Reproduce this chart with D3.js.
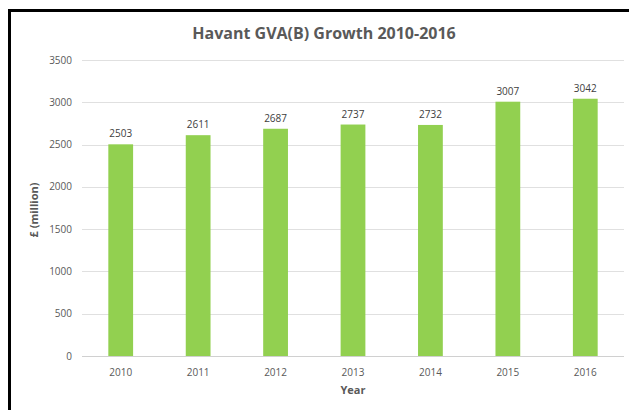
<!DOCTYPE html>
<html>
<head>
<meta charset="utf-8">
<script src="https://cdn.jsdelivr.net/npm/d3@7"></script>
<style>
  body { margin: 0; background: #fff; }
  text { font-family: 'Open Sans', 'Noto Sans', sans-serif; }
</style>
</head>
<body>
<div id="chart"></div>
<script>
(function() {

const years = ['2010', '2011', '2012', '2013', '2014', '2015', '2016']
const gva = [2503, 2611, 2687, 2737, 2732, 3007, 3042]
const yTicks = [0, 500, 1000, 1500, 2000, 2500, 3000, 3500]

const width = 629,
      height = 410

const margin = { top: 60, right: 5, bottom: 54, left: 82 }

const svg = d3.select('#chart')
  .append('svg')
  .attr('width', width)
  .attr('height', height)

// frame
svg.append('rect')
  .attr('x', 9.5)
  .attr('y', 10.5)
  .attr('width', 640)
  .attr('height', 420)
  .attr('fill', 'none')
  .attr('stroke', '#000')
  .attr('stroke-width', 3)

const x = d3.scaleBand()
  .domain(years)
  .range([margin.left, width - margin.right])
  .paddingInner(0.68)
  .paddingOuter(0.34)

const y = d3.scaleLinear()
  .domain([0, 3500])
  .range([height - margin.bottom, margin.top])

// gridlines
svg.append('g')
  .selectAll('line')
  .data(yTicks)
  .enter()
  .append('line')
  .attr('x1', margin.left)
  .attr('x2', width - margin.right)
  .attr('y1', d => Math.round(y(d)) + 0.5)
  .attr('y2', d => Math.round(y(d)) + 0.5)
  .attr('stroke', d => d === 0 ? '#d0d0d0' : '#e0e0e0')
  .attr('stroke-width', 1)

// y tick labels
svg.append('g')
  .selectAll('text')
  .data(yTicks)
  .enter()
  .append('text')
  .attr('x', margin.left - 10)
  .attr('y', d => y(d))
  .attr('dy', '0.35em')
  .attr('text-anchor', 'end')
  .attr('font-size', 10)
  .attr('fill', '#595959')
  .text(d => d)

// bars
svg.append('g')
  .selectAll('rect')
  .data(gva)
  .enter()
  .append('rect')
  .attr('x', (d, i) => x(years[i]))
  .attr('width', x.bandwidth())
  .attr('y', d => y(d))
  .attr('height', d => y(0) - y(d))
  .attr('fill', '#92d050')

// value labels
svg.append('g')
  .selectAll('text')
  .data(gva)
  .enter()
  .append('text')
  .attr('x', (d, i) => x(years[i]) + x.bandwidth() / 2)
  .attr('y', d => y(d) - 7)
  .attr('text-anchor', 'middle')
  .attr('font-size', 10)
  .attr('fill', '#404040')
  .text(d => d)

// x tick labels
svg.append('g')
  .selectAll('text')
  .data(years)
  .enter()
  .append('text')
  .attr('x', d => x(d) + x.bandwidth() / 2)
  .attr('y', y(0) + 20)
  .attr('text-anchor', 'middle')
  .attr('font-size', 10)
  .attr('fill', '#595959')
  .text(d => d)

// axis titles
svg.append('text')
  .attr('x', (margin.left + width - margin.right) / 2)
  .attr('y', 394)
  .attr('text-anchor', 'middle')
  .attr('font-size', 11)
  .attr('font-weight', 'bold')
  .attr('fill', '#595959')
  .text('Year')

svg.append('text')
  .attr('transform', 'translate(38,' + ((margin.top + height - margin.bottom) / 2 + 2) + ') rotate(-90)')
  .attr('text-anchor', 'middle')
  .attr('font-size', 11)
  .attr('font-weight', 'bold')
  .attr('fill', '#595959')
  .text('£ (million)')

// title
svg.append('text')
  .attr('x', 324)
  .attr('y', 39)
  .attr('text-anchor', 'middle')
  .attr('font-size', 16)
  .attr('font-weight', 'bold')
  .attr('fill', '#595959')
  .text('Havant GVA(B) Growth 2010-2016')

})()
</script>
</body>
</html>
